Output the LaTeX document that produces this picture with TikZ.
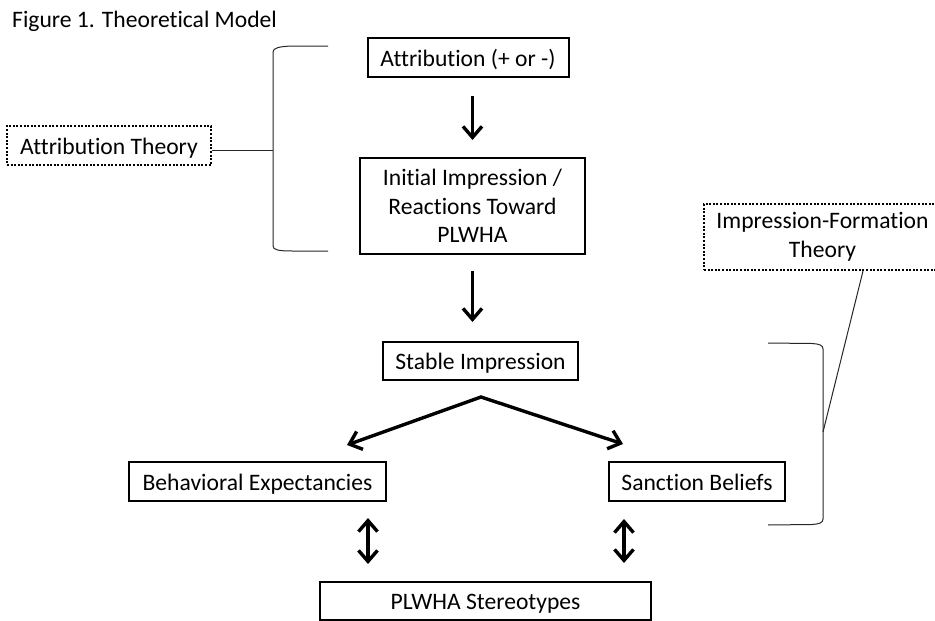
\documentclass[tikz,border=0pt]{standalone}
\usepackage{fontspec}
\setmainfont{Carlito}[RawFeature={-liga}]
\usetikzlibrary{arrows.meta}
\newcommand\boxstrut{\rule[-6pt]{0pt}{29pt}}
\begin{document}
\begin{tikzpicture}[x=1pt,y=-1pt,
  every node/.style={font=\fontsize{23.6}{28.5}\selectfont, text=black},
  box/.style={draw, line width=2pt, inner sep=0pt, align=center},
  theory/.style={draw, line width=2pt, dash pattern=on 2pt off 1.6pt, inner sep=0pt, align=center},
  flow/.style={line width=3.4pt, -{Straight Barb[length=11pt,width=19pt]}},
  both/.style={line width=3.4pt, line join=miter, {Straight Barb[length=11pt,width=19pt]}-{Straight Barb[length=11pt,width=19pt]}},
  bracket/.style={line width=1pt, draw=black!85}]
\useasboundingbox (0,0) rectangle (935,621);

% title
\node[anchor=base west, inner sep=0pt] (title) at (12,27.3) {Figure 1. Theoretical Model};

% main boxes
\node[box, minimum width=201pt, minimum height=39pt] (attr) at (468,57.5) {\boxstrut Attribution (+ or -)};
\node[box, minimum width=225pt, minimum height=96pt] (init) at (472.5,206) {Initial Impression /\\Reactions Toward\\PLWHA};
\node[box, minimum width=195pt, minimum height=38pt] (stable) at (480.5,361) {\boxstrut Stable Impression};
\node[box, minimum width=257pt, minimum height=39pt] (behav) at (257.5,481.5) {\boxstrut Behavioral Expectancies};
\node[box, minimum width=176pt, minimum height=39pt] (sanction) at (697,481.5) {\boxstrut Sanction Beliefs};
\node[box, minimum width=331pt, minimum height=38pt] (stereo) at (485.5,601) {\boxstrut PLWHA Stereotypes};

% theory boxes
\node[theory, minimum width=204pt, minimum height=39pt] (attrTheory) at (109,145.5) {\boxstrut Attribution Theory};
\node[theory, minimum width=237pt, minimum height=66pt] (ifTheory) at (822.5,237) {Impression-Formation\\Theory};

% flow arrows
\draw[flow, shorten <=18pt, shorten >=17pt] (attr.south -| init.north) -- (init.north);
\draw[flow, shorten <=16pt, shorten >=19pt] (init.south) -- (init.south |- stable.north);

\coordinate (apex) at (481,397);
\coordinate (tipL) at (347,445);
\coordinate (tipR) at (623,444);
\draw[both] (tipL) -- (apex) -- (tipR);

\coordinate (xL) at (368,0);
\coordinate (xR) at (624,0);
\draw[both, shorten <=16pt, shorten >=17pt] (behav.south -| xL) -- (stereo.north -| xL);
\draw[both, shorten <=17pt, shorten >=18pt] (sanction.south -| xR) -- (stereo.north -| xR);

% left bracket
\coordinate (brL) at (273,150);
\draw[bracket] (328,46) -- (292,46) .. controls (279,46.5) and (273,48) .. (273,52)
  -- (273,246) .. controls (273,250) and (279,251) .. (292,251) -- (328,251);
\draw[bracket] (attrTheory.east |- brL) -- (brL);

% right bracket
\coordinate (brR) at (823,432);
\draw[bracket] (768,343) -- (812,343.5) .. controls (819,344) and (823,345) .. (823,349)
  -- (823,519) .. controls (823,523) and (819,524) .. (812,524.5) -- (768,525);
\draw[bracket] (brR) -- (ifTheory.south -| 863,0);
\end{tikzpicture}
\end{document}
